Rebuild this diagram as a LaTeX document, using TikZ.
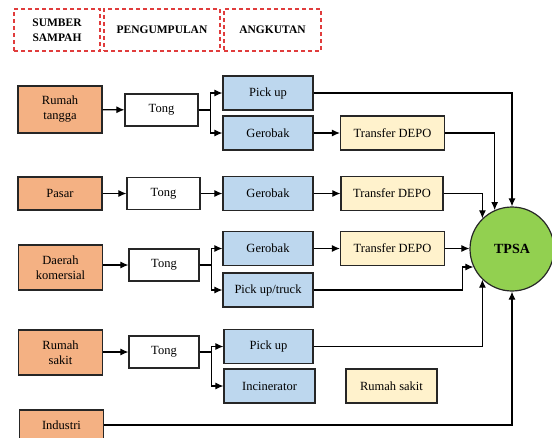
\documentclass[tikz,border=0pt]{standalone}
\usepackage{fontspec}
\setmainfont{Liberation Serif}
\newfontfamily\tmsfont{Liberation Serif}
\usetikzlibrary{arrows,arrows.meta}

\definecolor{srcorange}{HTML}{F4B183}
\definecolor{trblue}{HTML}{BDD7EE}
\definecolor{depoyellow}{HTML}{FFF2CC}
\definecolor{tpsagreen}{HTML}{92D050}
\definecolor{hdrred}{HTML}{E03C3C}

\begin{document}
\begin{tikzpicture}[x=1pt,y=-1pt]
\tikzset{box/.style = {shape=rectangle,draw=black!85,line width=1.2pt,align=center,
  font=\tmsfont\fontsize{12.5}{15}\selectfont,inner sep=0pt}}
\tikzset{source/.style = {box,fill=srcorange,minimum width=84pt}}
\tikzset{bin/.style = {box,fill=white,minimum width=73pt,minimum height=32pt}}
\tikzset{transport/.style = {box,fill=trblue,minimum width=90pt,minimum height=34pt}}
\tikzset{depo/.style = {box,fill=depoyellow,minimum width=104pt,minimum height=34pt}}
\tikzset{hdr/.style = {shape=rectangle,draw=hdrred,dashed,line width=1.4pt,
  dash pattern=on 4pt off 3pt,align=center,minimum height=42pt,
  font=\tmsfont\fontsize{11.5}{15}\selectfont\bfseries}}
\tikzset{edge/.style = {-{Latex[length=8pt,width=7pt]},line width=1.1pt}}

\useasboundingbox (0,0) rectangle (552,437);
\clip (0,0) rectangle (552,437);

% header

\node[hdr,minimum width=86pt] (hsumber) at (57,30) {SUMBER\\SAMPAH};
\node[hdr,minimum width=116pt] (hkumpul) at (162,30) {PENGUMPULAN};
\node[hdr,minimum width=97pt] (hangkut) at (272.5,30) {ANGKUTAN};

% sources

\node[source,minimum height=47pt] (rtangga) at (60,109.5) {Rumah\\tangga};
\node[source,minimum height=33pt] (pasar) at (60,193.5) {Pasar};
\node[source,minimum height=45pt] (komersial) at (60.5,267.5) {Daerah\\komersial};
\node[source,minimum height=45pt] (rsakit) at (60.5,352.5) {Rumah\\sakit};
\node[source,minimum height=30pt] (industri) at (61.5,425) {Industri};

% tong

\node[bin] (tong1) at (161.5,110) {Tong};
\node[bin] (tong2) at (163.5,193.5) {Tong};
\node[bin,minimum width=70pt] (tong3) at (164,265) {Tong};
\node[bin,minimum width=70pt] (tong4) at (164,352) {Tong};

% angkutan

\node[transport] (pickup1) at (268,93) {Pick up};
\node[transport] (gerobak1) at (268,133) {Gerobak};
\node[transport] (gerobak2) at (268,193.5) {Gerobak};
\node[transport] (gerobak3) at (268,248.5) {Gerobak};
\node[transport] (truck) at (268,290) {Pick up/truck};
\node[transport,minimum width=89pt] (pickup4) at (268.5,346.5) {Pick up};
\node[transport,minimum width=91pt] (incin) at (269.5,386) {Incinerator};

% depo

\node[depo] (depo1) at (392.5,133) {Transfer DEPO};
\node[depo,minimum width=102pt] (depo2) at (392,193.5) {Transfer DEPO};
\node[depo] (depo3) at (392.5,248.5) {Transfer DEPO};
\node[depo,minimum width=91pt] (rsdepo) at (391.5,386) {Rumah sakit};

\node[shape=circle,draw=black!85,line width=1.2pt,fill=tpsagreen,minimum size=84pt,
  font=\tmsfont\fontsize{14}{16}\selectfont\bfseries] (tpsa) at (512,249) {TPSA};

% edges

\draw[edge] (rtangga) to (tong1);
\draw[edge] (tong1.east) -- ++(12,0) |- (pickup1.west);
\draw[edge] (tong1.east) -- ++(12,0) |- (gerobak1.west);
\draw[edge] (gerobak1) to (depo1);

\draw[edge] (pasar) to (tong2);
\draw[edge] (tong2) to (gerobak2);
\draw[edge] (gerobak2) to (depo2);

\draw[edge] (komersial.east |- tong3) to (tong3);
\draw[edge] (tong3.east) -- ++(12,0) |- (gerobak3.west);
\draw[edge] (tong3.east) -- ++(12,0) |- (truck.west);
\draw[edge] (gerobak3) to (depo3);

\draw[edge] (rsakit.east |- tong4) to (tong4);
\draw[edge] (tong4.east) -- ++(12,0) |- (pickup4.west);
\draw[edge] (tong4.east) -- ++(12,0) |- (incin.west);

% to TPSA

\draw[edge] (pickup1.east) -| (tpsa.north);
\draw[edge] (depo1.east) -| (tpsa.114);
\draw[edge] (depo2.east) -| (tpsa.134);
\draw[edge] (depo3.east) -- (tpsa.west |- depo3.east);
\draw[edge] (truck.east) -- ++(149,0) |- (tpsa.205);
\draw[edge] (pickup4.east) -| (tpsa.226);
\draw[edge] (industri.east) -| (tpsa.south);
\end{tikzpicture}
\end{document}
